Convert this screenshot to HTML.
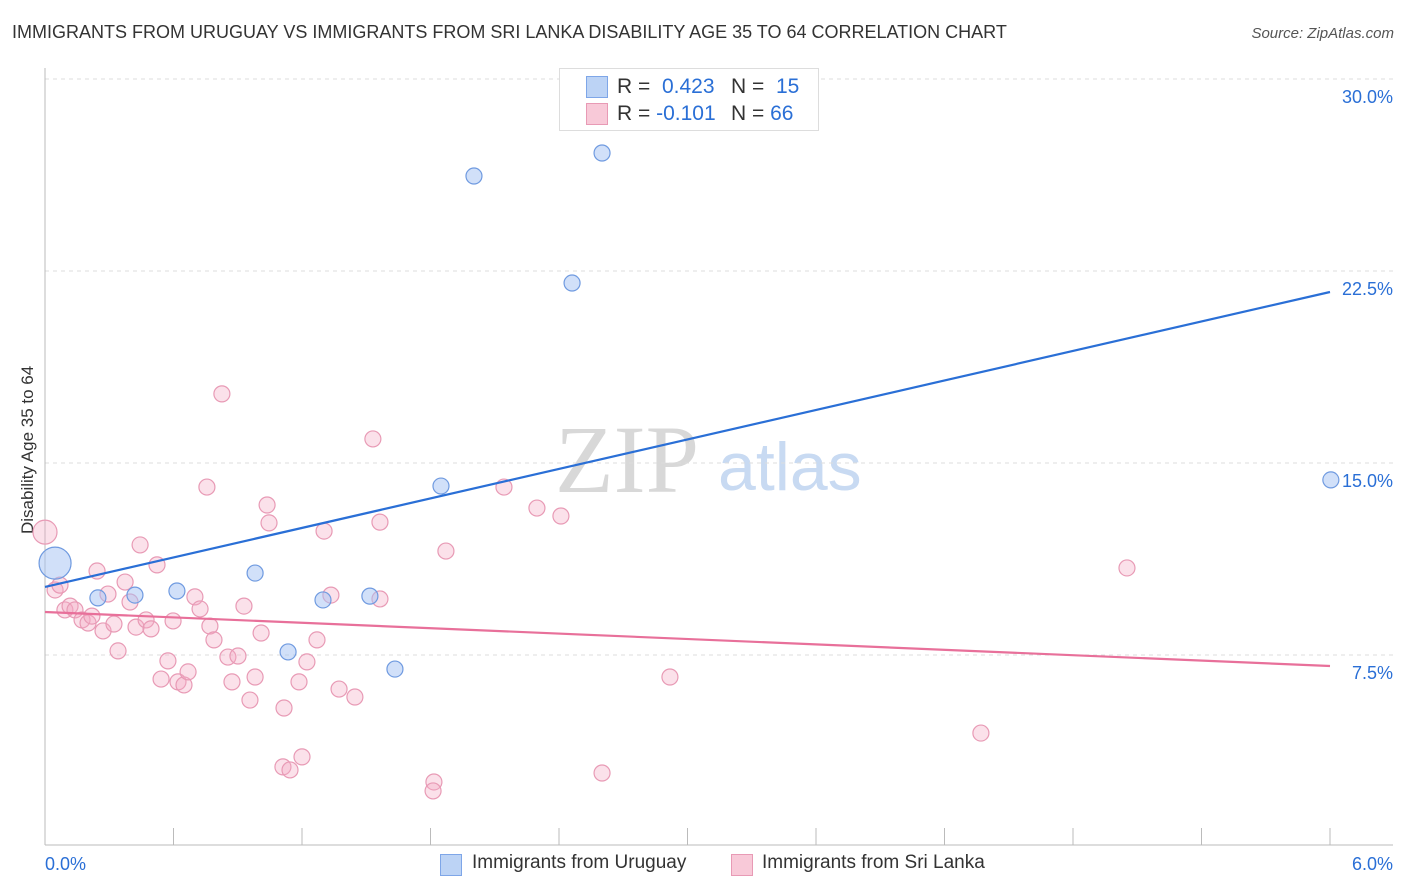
<!DOCTYPE html>
<html><head><meta charset="utf-8"><style>
body{margin:0;background:#fff;font-family:"Liberation Sans",sans-serif;}
#wrap{position:relative;width:1406px;height:892px;overflow:hidden;}
.t{position:absolute;white-space:nowrap;}
</style></head><body>
<div id="wrap">
<div class="t" style="left:12px;top:22px;font-size:18px;color:#333;">IMMIGRANTS FROM URUGUAY VS IMMIGRANTS FROM SRI LANKA DISABILITY AGE 35 TO 64 CORRELATION CHART</div>
<div class="t" style="right:12px;top:25px;font-size:15px;color:#555;font-style:italic;">Source: ZipAtlas.com</div>
<div class="t" style="left:-52px;top:444px;font-size:17px;color:#333;transform:rotate(-90deg);width:160px;text-align:center;">Disability Age 35 to 64</div>
<svg id="svg" width="1406" height="892" style="position:absolute;left:0;top:0">
<text x="555" y="492" font-family="Liberation Serif" font-size="96" fill="#d8d8d8">ZIP</text>
<text x="718" y="490" font-family="Liberation Sans" font-size="68" fill="#c8daf2">atlas</text>
</svg>
<div style="position:absolute;left:559px;top:68px;width:258px;height:61px;border:1px solid #ddd;background:#fff;font-size:21px;">
 <div style="position:absolute;left:26px;top:7px;width:20px;height:20px;background:#bcd3f5;border:1px solid #7ea6e8;"></div>
 <div class="t" style="left:57px;top:6px;color:#333">R = <span style="color:#2a6fd6">&nbsp;0.423</span></div>
 <div class="t" style="left:171px;top:6px;color:#333">N = <span style="color:#2a6fd6">&nbsp;15</span></div>
 <div style="position:absolute;left:26px;top:34px;width:20px;height:20px;background:#f8c9d8;border:1px solid #e89ab5;"></div>
 <div class="t" style="left:57px;top:33px;color:#333">R = <span style="color:#2a6fd6">-0.101</span></div>
 <div class="t" style="left:171px;top:33px;color:#333">N = <span style="color:#2a6fd6">66</span></div>
</div>
<div style="position:absolute;left:440px;top:852px;font-size:19px;color:#333;">
 <div style="position:absolute;left:0;top:2px;width:20px;height:20px;background:#bcd3f5;border:1px solid #7ea6e8;"></div>
 <div class="t" style="left:32px;top:0">Immigrants from Uruguay</div>
 <div style="position:absolute;left:291px;top:2px;width:20px;height:20px;background:#f8c9d8;border:1px solid #e89ab5;"></div>
 <div class="t" style="left:322px;top:0">Immigrants from Sri Lanka</div>
</div>
</div>
<script>
const yTicks=[7.5,15,22.5,30];
const yTickLabels=["7.5%","15.0%","22.5%","30.0%"];
const xTickLabels=["0.0%","6.0%"];
const blueX=[0.047,0.247,0.420,0.616,0.981,1.135,1.298,1.517,1.634,1.849,2.003,2.461,2.601,6.004];
const blueY=[11.09,9.73,9.84,10.00,10.70,7.62,9.65,9.80,6.95,14.10,26.21,22.03,27.11,14.34];
const pinkX=[0,0.047,0.070,0.093,0.117,0.140,0.173,0.201,0.219,0.243,0.271,0.294,0.322,0.341,0.374,0.397,0.425,0.444,0.472,0.495,0.523,0.542,0.574,0.598,0.621,0.649,0.668,0.700,0.724,0.756,0.770,0.789,0.826,0.854,0.873,0.901,0.929,0.957,0.981,1.009,1.037,1.046,1.116,1.111,1.144,1.186,1.200,1.223,1.270,1.303,1.335,1.373,1.447,1.531,1.564,1.564,1.816,1.812,1.872,2.143,2.297,2.409,2.601,2.918,4.370,5.052];
const pinkY=[12.30,10.04,10.23,9.26,9.41,9.26,8.87,8.75,9.02,10.78,8.44,9.88,8.71,7.66,10.35,9.57,8.59,11.80,8.87,8.52,11.02,6.56,7.27,8.83,6.45,6.33,6.84,9.77,9.30,14.06,8.63,8.09,17.70,7.42,6.45,7.46,9.41,5.74,6.64,8.36,13.36,12.66,5.43,3.13,3.01,6.45,3.52,7.23,8.09,12.34,9.84,6.17,5.86,15.94,12.69,9.69,2.54,2.19,11.56,14.06,13.24,12.93,2.89,6.64,4.45,10.90];
const blueLine=[10.16,21.68];
const pinkLine=[9.18,7.07];
const X=v=>45+v/6*1285, Y=v=>847-v*25.6;
const svg=document.getElementById('svg');const NS='http://www.w3.org/2000/svg';
function mk(tag,a){const e=document.createElementNS(NS,tag);for(const k in a)e.setAttribute(k,a[k]);svg.appendChild(e);return e;}
yTicks.forEach((v,i)=>{
 const g=mk('line',{x1:45,x2:1393,y1:Y(v),y2:Y(v),stroke:'#ddd','stroke-dasharray':'4,4'});
 
 
 const t=mk('text',{x:1393,y:Y(v)+24,'text-anchor':'end','font-size':18,fill:'#2a6fd6','font-family':'Liberation Sans'});
 t.textContent=yTickLabels[i];
 
 
});
let a=mk('line',{x1:45,x2:45,y1:68,y2:845,stroke:'#bbb'});


a=mk('line',{x1:45,x2:1393,y1:845,y2:845,stroke:'#bbb'});


for(let i=0;i<=10;i++){const tk=mk('line',{x1:X(i*0.6),x2:X(i*0.6),y1:828,y2:845,stroke:'#bbb'});
 
 }
[[0,'start',45],[6,'end',1393]].forEach((d,i)=>{const t=mk('text',{x:d[2],y:870,'text-anchor':d[1],'font-size':18,fill:'#2a6fd6','font-family':'Liberation Sans'});t.textContent=xTickLabels[i];
 
 });
pinkX.forEach((x,i)=>{const c=mk('circle',{cx:X(x),cy:Y(pinkY[i]),r:i==0?12:8,fill:'rgba(244,170,196,0.35)',stroke:'#e89ab5','stroke-width':1.2});
 
 });
blueX.forEach((x,i)=>{const c=mk('circle',{cx:X(x),cy:Y(blueY[i]),r:i==0?16:8,fill:'rgba(164,194,244,0.5)',stroke:'#6f9ae0','stroke-width':1.2});
 
 });
let l=mk('line',{x1:X(0),y1:Y(blueLine[0]),x2:X(6),y2:Y(blueLine[1]),stroke:'#2a6fd6','stroke-width':2.2});


l=mk('line',{x1:X(0),y1:Y(pinkLine[0]),x2:X(6),y2:Y(pinkLine[1]),stroke:'#e8709a','stroke-width':2.2});


</script>
</body></html>
